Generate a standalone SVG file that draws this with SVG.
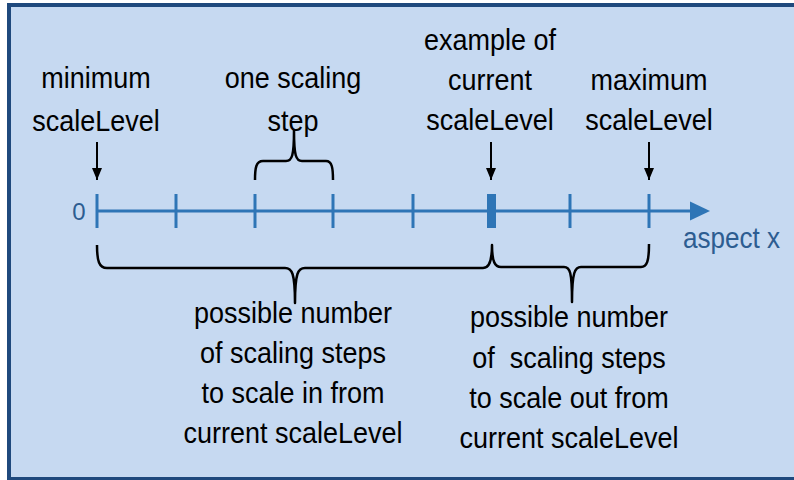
<svg xmlns="http://www.w3.org/2000/svg" width="794" height="480" viewBox="0 0 794 480">
<style>
.lbl{font-family:"Liberation Sans",Arial,sans-serif;font-size:30px;fill:#000;text-anchor:middle}
.blue{font-family:"Liberation Sans",Arial,sans-serif;fill:#2d5d91}
.axis{stroke:#2e75b6;stroke-width:3;fill:none}
.tick{stroke:#2e75b6;stroke-width:3}
.brace{stroke:#000;stroke-width:2.5;fill:none;stroke-linejoin:round}
.ptr{stroke:#000;stroke-width:2;marker-end:url(#ah)}
</style>
<defs>
<marker id="ah" markerUnits="userSpaceOnUse" markerWidth="12" markerHeight="10" refX="12" refY="5" orient="auto" viewBox="0 0 12 10">
<path d="M0,0 L12,5 L0,10 Z" fill="#000"/>
</marker>
</defs>
<rect x="0" y="0" width="794" height="480" fill="#fff"/>
<rect x="9" y="5" width="800" height="474" fill="#c6d9f1" stroke="#1f497d" stroke-width="4"/>

<g id="axis">
<line class="axis" x1="97" y1="211" x2="692" y2="211"/>
<polygon points="690,201.5 710,211 690,220.5" fill="#2e75b6"/>
<line class="tick" x1="97" y1="194" x2="97" y2="228"/>
<line class="tick" x1="176" y1="194" x2="176" y2="228"/>
<line class="tick" x1="255" y1="194" x2="255" y2="228"/>
<line class="tick" x1="333" y1="194" x2="333" y2="228"/>
<line class="tick" x1="413" y1="194" x2="413" y2="228"/>
<line x1="491.5" y1="194" x2="491.5" y2="228" stroke="#2e75b6" stroke-width="9"/>
<line class="tick" x1="570" y1="194" x2="570" y2="228"/>
<line class="tick" x1="649" y1="194" x2="649" y2="228"/>
<text class="blue" x="79" y="220" font-size="24" text-anchor="middle" fill="#3a6ea5">0</text>
<text class="blue" transform="translate(683,248) scale(0.9,1)" font-size="29">aspect x</text>
</g>

<g id="label-min">
<text class="lbl" transform="translate(96,88) scale(0.9,1)"><tspan x="0" y="0">minimum</tspan><tspan x="0" y="43">scaleLevel</tspan></text>
</g>
<g id="label-step">
<text class="lbl" transform="translate(293,88) scale(0.9,1)"><tspan x="0" y="0">one scaling</tspan><tspan x="0" y="43">step</tspan></text>
</g>
<g id="label-current">
<text class="lbl" transform="translate(490,50) scale(0.9,1)"><tspan x="0" y="0">example of</tspan><tspan x="0" y="40">current</tspan><tspan x="0" y="80">scaleLevel</tspan></text>
</g>
<g id="label-max">
<text class="lbl" transform="translate(649,90) scale(0.9,1)"><tspan x="0" y="0">maximum</tspan><tspan x="0" y="40">scaleLevel</tspan></text>
</g>
<g id="label-in">
<text class="lbl" transform="translate(293,323) scale(0.9,1)"><tspan x="0" y="0">possible number</tspan><tspan x="0" y="40">of scaling steps</tspan><tspan x="0" y="80">to scale in from</tspan><tspan x="0" y="120">current scaleLevel</tspan></text>
</g>
<g id="label-out">
<text class="lbl" transform="translate(569,327) scale(0.9,1)" xml:space="preserve"><tspan x="0" y="0">possible number</tspan><tspan x="0" y="41">of  scaling steps</tspan><tspan x="0" y="81">to scale out from</tspan><tspan x="0" y="121">current scaleLevel</tspan></text>
</g>

<g id="connectors">
<line class="ptr" x1="97" y1="142" x2="97" y2="180"/>
<line class="ptr" x1="491" y1="142" x2="491" y2="180"/>
<line class="ptr" x1="649" y1="142" x2="649" y2="180"/>
<path class="brace" d="M255,180 C255,168 256,161 263,161 L286,161 C292,161 294,156 294,130 C294,156 296,161 302,161 L326,161 C332,161 333,168 333,180"/>
<path class="brace" d="M97,245 C97,261 99,268 107,268 L285,268 C292,268 295,273 295,303 C295,273 298,268 305,268 L483,268 C489,268 492,262 492,245 C492,262 495,267 501,267 L564,267 C570,267 572,272 572,302 C572,272 575,267 581,267 L641,267 C647,267 649,261 649,244"/>
</g>
</svg>
